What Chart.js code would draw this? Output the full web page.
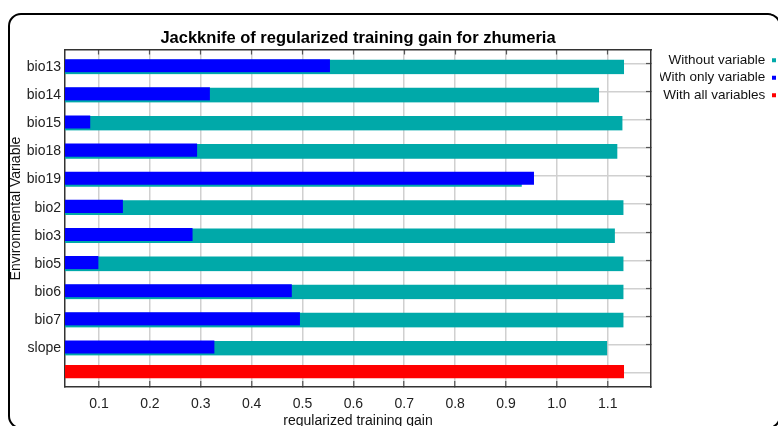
<!DOCTYPE html>
<html>
<head>
<meta charset="utf-8">
<script src="https://cdn.jsdelivr.net/npm/chart.js@4.4.1/dist/chart.umd.min.js"></script>
<style>
  html, body { margin: 0; padding: 0; background: #fff; }
  #wrap { position: relative; width: 778px; height: 426px; overflow: hidden; }
  #wrap canvas { position: absolute; left: 0; top: 0; }
  #frame {
    position: absolute; left: 8px; top: 13px; width: 769px; height: 412px;
    border: 2px solid #000; border-radius: 13px; pointer-events: none;
  }
</style>
</head>
<body>
<div id="wrap">
  <canvas id="chart" width="778" height="426"></canvas>
  <div id="frame"></div>
</div>
<script>
// Environmental variables, top to bottom
const categories = ['bio13', 'bio14', 'bio15', 'bio18', 'bio19', 'bio2', 'bio3', 'bio5', 'bio6', 'bio7', 'slope'];
// Training gain of the model built without each variable
const withoutVariable = [1.132, 1.083, 1.129, 1.119, 0.931, 1.131, 1.114, 1.131, 1.131, 1.131, 1.099];
// Training gain of the model built with only that variable
const withOnlyVariable = [0.554, 0.318, 0.083, 0.293, 0.955, 0.147, 0.284, 0.099, 0.479, 0.495, 0.327];
// Training gain of the full model
const withAllVariables = 1.132;
// Axis range and tick spacing
const xRange = [0.0332, 1.185];
const xStep = 0.1;

const FONT = "'Liberation Sans', Arial, Helvetica, sans-serif";
const TEAL = '#00a9a9';
const BLUE = '#0000ff';
const RED = '#ff0000';
const CLEAR = 'rgba(0,0,0,0)';
const GRID = '#d0d0d0';
const AXIS = '#333333';
const TICK = '#555555';

// one extra unlabeled row at the bottom holds the full-model bar
const rowLabels = categories.concat(['']);
const blankRow = categories.map(() => null);

new Chart(document.getElementById('chart'), {
  type: 'bar',
  data: {
    labels: rowLabels,
    datasets: [
      {
        label: 'Without variable',
        data: withoutVariable.concat([null]),
        backgroundColor: TEAL,
        borderColor: CLEAR,
        borderWidth: { top: 7.1, right: 0, bottom: 0, left: 0 },
        barThickness: 21.4,
        order: 3
      },
      {
        label: 'With only variable',
        data: withOnlyVariable.concat([null]),
        backgroundColor: BLUE,
        borderColor: CLEAR,
        borderWidth: { top: 4.8, right: 0, bottom: 0, left: 0 },
        barThickness: 17.6,
        order: 2
      },
      {
        label: 'With all variables',
        data: blankRow.concat([withAllVariables]),
        backgroundColor: RED,
        borderColor: CLEAR,
        borderWidth: { top: 0, right: 0, bottom: 3, left: 0 },
        barThickness: 16,
        order: 1
      }
    ]
  },
  options: {
    indexAxis: 'y',
    responsive: false,
    animation: false,
    events: [],
    layout: { padding: { left: 0, top: 0, bottom: 0, right: -2 } },
    datasets: { bar: { grouped: false, clip: 0 } },
    plugins: {
      tooltip: { enabled: false },
      title: {
        display: true,
        text: 'Jackknife of regularized training gain for zhumeria',
        fullSize: false,
        color: '#000',
        font: { family: FONT, size: 16.5, weight: 'bold' },
        padding: { top: 28.1, bottom: 1.6 }
      },
      legend: {
        position: 'right',
        align: 'start',
        fullSize: false,
        rtl: true,
        maxWidth: 120,
        labels: {
          boxWidth: 4,
          boxHeight: 4,
          padding: 4,
          color: '#111',
          font: { family: FONT, size: 13.5 },
          sort: (a, b) => a.datasetIndex - b.datasetIndex
        }
      }
    },
    scales: {
      x: {
        type: 'linear',
        position: 'bottom',
        min: xRange[0],
        max: xRange[1],
        ticks: {
          stepSize: xStep,
          includeBounds: false,
          padding: 15,
          color: '#222',
          font: { family: FONT, size: 14 },
          callback: v => Number(v).toFixed(1)
        },
        grid: { color: GRID, lineWidth: 1.5, tickLength: -6, tickColor: TICK, tickWidth: 1.2 },
        border: { color: AXIS, width: 1.5 },
        title: {
          display: true,
          text: 'regularized training gain',
          color: '#111',
          font: { family: FONT, size: 14 },
          padding: { top: 0, bottom: -3.4 }
        },
        afterFit: s => { s.height = 39; }
      },
      x2: {
        type: 'linear',
        position: 'top',
        min: xRange[0],
        max: xRange[1],
        ticks: { display: false, stepSize: xStep, includeBounds: false },
        grid: { drawOnChartArea: false, tickLength: -5, tickColor: TICK, tickWidth: 1.2 },
        border: { color: AXIS, width: 1.5 },
        afterFit: s => { s.height = 0; }
      },
      y: {
        type: 'category',
        position: 'left',
        offset: true,
        grid: { offset: false, color: GRID, lineWidth: 1.5, drawTicks: false },
        border: { color: AXIS, width: 1.5 },
        ticks: {
          padding: 4,
          labelOffset: 3.5,
          color: '#222',
          font: { family: FONT, size: 14 }
        },
        title: {
          display: true,
          // leading spaces lift the rotated caption toward the top of the panel
          text: '     Environmental Variable',
          color: '#111',
          font: { family: FONT, size: 14 },
          padding: { top: 7.6, bottom: 0 }
        },
        afterFit: s => { s.width = 65; }
      },
      y2: {
        type: 'category',
        position: 'right',
        offset: true,
        grid: {
          offset: false,
          drawOnChartArea: false,
          tickLength: -5,
          tickWidth: 1.2,
          tickColor: c => (c.tick && c.tick.label === '') ? CLEAR : TICK
        },
        border: { color: AXIS, width: 1.5 },
        ticks: { display: false },
        afterFit: s => { s.width = 9; }
      }
    }
  }
});
</script>
</body>
</html>
